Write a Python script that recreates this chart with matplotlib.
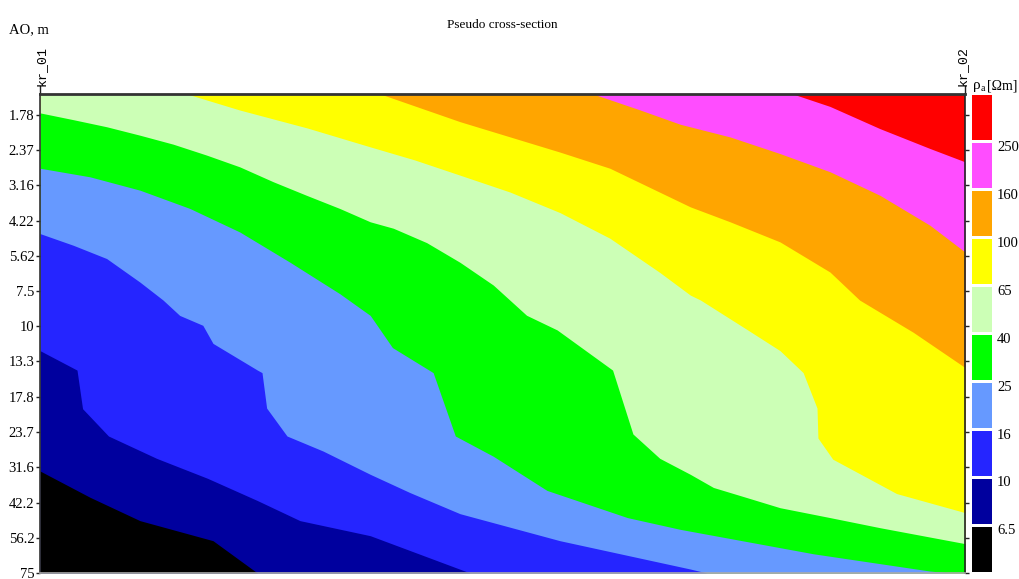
import matplotlib
matplotlib.use("Agg")
import matplotlib.pyplot as plt
from matplotlib.lines import Line2D

# AB/2 (AO) spacings, m
ao_ticks = [1.78, 2.37, 3.16, 4.22, 5.62, 7.5, 10, 13.3, 17.8, 23.7, 31.6, 42.2, 56.2, 75]
ao_labels = ['1.78', '2.37', '3.16', '4.22', '5.62', '7.5', '10', '13.3',
             '17.8', '23.7', '31.6', '42.2', '56.2', '75']
ao_top, ao_bottom = 1.5, 75

# Apparent resistivity class limits, Ohm*m
levels = [6.5, 10, 16, 25, 40, 65, 100, 160, 250]
level_labels = ['6.5', '10', '16', '25', '40', '65', '100', '160', '250']
band_colors = ['#000000', '#00009e', '#2525ff', '#6699ff', '#00ff00',
               '#ccffb6', '#ffff00', '#ffa500', '#ff4dff', '#ff0000']

# Isolines of apparent resistivity: position along the profile (%) and AO (m)
iso_6_5_x = [0, 5.4, 10.8, 18.7, 23.5]
iso_6_5_ao = [32.6, 40.4, 48.9, 57.6, 75]

iso_10_x = [0, 4.0, 4.6, 7.4, 12.6, 18.1, 23.5, 28.1, 35.7, 46.5]
iso_10_ao = [12.2, 14.3, 19.6, 24.5, 29.4, 34.6, 41.5, 48.9, 55.3, 75]

iso_16_x = [0, 3.6, 7.2, 10.8, 13.3, 15.1, 17.6, 18.7, 23.5, 24.0, 24.5, 26.7,
            30.6, 35.7, 40.0, 45.4, 56.2, 70.3, 72.1]
iso_16_ao = [4.69, 5.16, 5.75, 6.97, 8.07, 9.15, 9.92, 11.5, 14.3, 14.6, 19.5, 24.5,
             27.7, 33.5, 38.9, 46.2, 57.6, 72.6, 75]

iso_25_x = [0, 5.4, 10.8, 16.2, 21.6, 27.0, 32.4, 35.7, 38.1, 42.5, 44.9, 49.0,
            54.8, 63.5, 69.2, 83.6, 96.2, 98.4]
iso_25_ao = [2.75, 2.95, 3.29, 3.82, 4.63, 5.92, 7.66, 9.15, 11.9, 14.6, 24.5, 28.9,
             38.2, 47.7, 52.5, 64.1, 73.8, 75]

iso_40_x = [0, 3.6, 7.2, 10.8, 14.4, 18.0, 21.6, 25.2, 28.8, 32.4, 35.7, 38.2, 41.8,
            45.4, 49.0, 52.6, 55.9, 61.9, 64.1, 67.0, 70.3, 72.8, 76.4, 80.0, 85.4,
            90.8, 100]
iso_40_ao = [1.75, 1.85, 1.96, 2.10, 2.26, 2.47, 2.72, 3.07, 3.43, 3.82, 4.26, 4.49, 5.05,
             5.93, 7.14, 9.14, 10.3, 14.3, 24.1, 29.4, 33.5, 37.3, 40.5, 44.0, 47.7,
             51.8, 59.0]

iso_65_x = [0, 15.9, 21.6, 28.9, 35.7, 40.5, 45.4, 50.8, 56.2, 61.6, 67.0, 70.3,
            71.4, 76.5, 80.0, 82.5, 84.0, 84.1, 85.7, 92.6, 100]
iso_65_ao = [1.5, 1.5, 1.71, 1.98, 2.31, 2.57, 2.91, 3.34, 3.95, 4.87, 6.44, 7.75,
             8.07, 10.3, 12.2, 14.6, 19.5, 24.9, 29.6, 39.2, 45.8]

iso_100_x = [0, 36.8, 45.4, 56.2, 61.6, 70.3, 74.6, 80.0, 85.4, 88.6, 94.4, 100]
iso_100_ao = [1.5, 1.5, 1.88, 2.41, 2.75, 3.77, 4.26, 5.02, 6.42, 8.07, 10.5, 14.0]

iso_160_x = [0, 59.8, 64.9, 69.2, 74.6, 80.0, 85.4, 90.8, 96.2, 100]
iso_160_ao = [1.5, 1.5, 1.71, 1.92, 2.13, 2.44, 2.83, 3.43, 4.38, 5.45]

iso_250_x = [0, 81.4, 85.4, 90.8, 96.2, 100]
iso_250_ao = [1.5, 1.5, 1.66, 1.99, 2.34, 2.61]

isolines = [(iso_6_5_x, iso_6_5_ao), (iso_10_x, iso_10_ao), (iso_16_x, iso_16_ao),
            (iso_25_x, iso_25_ao), (iso_40_x, iso_40_ao), (iso_65_x, iso_65_ao),
            (iso_100_x, iso_100_ao), (iso_160_x, iso_160_ao), (iso_250_x, iso_250_ao)]

fig = plt.figure(figsize=(10.19, 5.79), dpi=100)
fig.patch.set_facecolor('white')

ax = fig.add_axes([40 / 1019, 1 - 573 / 579, 925 / 1019, 479 / 579])
ax.set_yscale('log')
ax.set_xlim(0, 100)
ax.set_ylim(ao_bottom, ao_top)

# highest class fills the whole section, lower classes are painted below each isoline
ax.fill_between([0, 100], ao_top, ao_bottom, color=band_colors[-1], lw=0)
for i in range(len(levels) - 1, -1, -1):
    xs, ys = isolines[i]
    ax.fill_between(xs, ys, ao_bottom, color=band_colors[i], lw=0)

ax.set_xticks([])
ax.yaxis.set_minor_locator(matplotlib.ticker.NullLocator())
ax.set_yticks(ao_ticks)
ax.set_yticklabels(ao_labels, family='Liberation Serif', fontsize=10.5)
ax.tick_params(axis='y', which='major', length=3, width=1, direction='out', pad=1,
               right=True, color='#222222')
for side, (lw, col) in {'top': (2.0, '#333333'), 'left': (1.2, '#333333'),
                        'right': (1.2, '#222222'), 'bottom': (1.2, '#aaaaaa')}.items():
    ax.spines[side].set_linewidth(lw)
    ax.spines[side].set_color(col)

fig.text(502 / 1019, 1 - 25 / 579, 'Pseudo cross-section', ha='center', va='center',
         family='Liberation Serif', fontsize=9.5)
fig.text(9 / 1019, 1 - 30 / 579, 'AO, m', ha='left', va='center',
         family='Liberation Serif', fontsize=10.5)

# profile end markers
for xf, dx, name in [(0.0, 0.002, 'kr_01'), (1.0, -0.003, 'kr_02')]:
    ax.add_line(Line2D([xf, xf], [1.0, 1.016], transform=ax.transAxes,
                       color='#222222', lw=1, clip_on=False))
    ax.text(xf + dx, 1.017, name, transform=ax.transAxes, rotation=90,
            ha='center', va='bottom', family='Liberation Mono', fontsize=9.5)

# class legend
cax = fig.add_axes([972 / 1019, 1 - 573 / 579, 20 / 1019, 479 / 579])
cax.set_xlim(0, 1)
cax.set_ylim(0, len(band_colors))
cax.axis('off')
for i, c in enumerate(band_colors):
    cax.bar(0.5, 0.94, bottom=i + 0.03, width=1.0, color=c, lw=0)
for i, lab in enumerate(level_labels):
    cax.text(1.25, i + 1 - 0.12, lab, transform=cax.get_yaxis_transform(),
             ha='left', va='center', family='Liberation Serif', fontsize=10.5)

# legend caption: rho with subscript a, units
fig.text(973 / 1019, 1 - 89 / 579, 'ρ', ha='left', va='baseline',
         family='Liberation Serif', fontsize=11)
fig.text(981 / 1019, 1 - 91 / 579, 'a', ha='left', va='baseline',
         family='Liberation Serif', fontsize=7)
fig.text(987 / 1019, 1 - 89 / 579, '[Ωm]', ha='left', va='baseline',
         family='Liberation Serif', fontsize=10)

fig.savefig('out.png', dpi=100)
